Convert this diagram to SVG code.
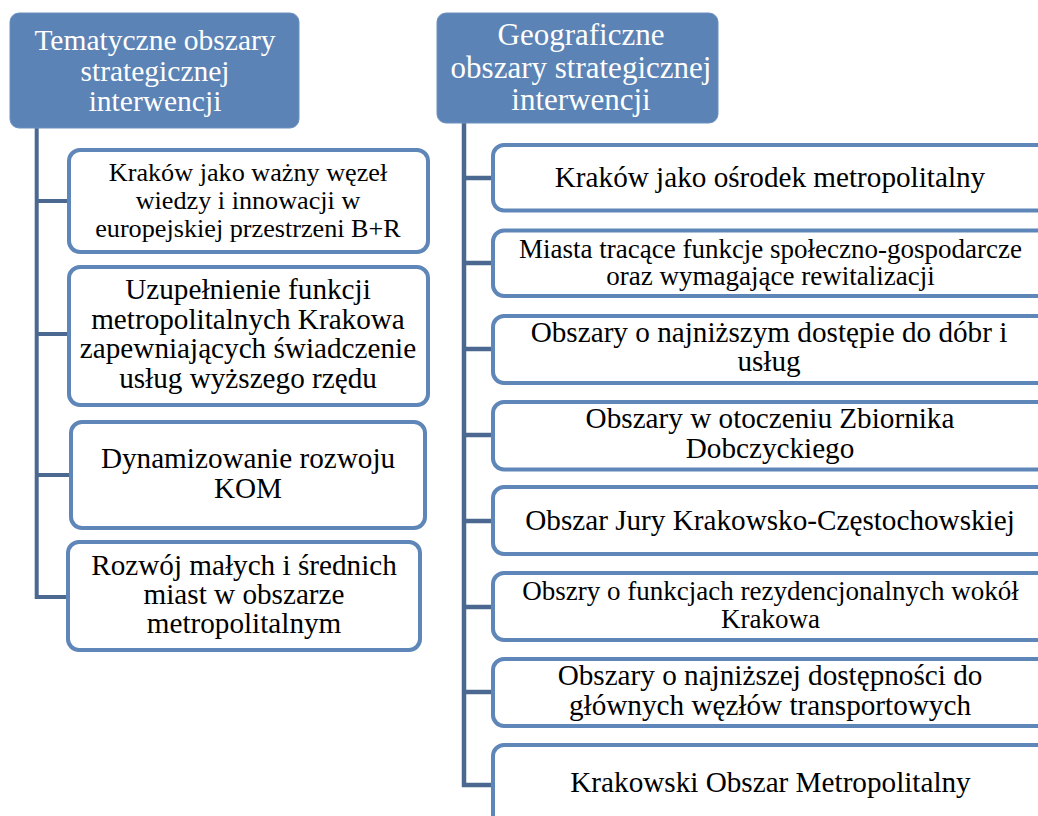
<svg xmlns="http://www.w3.org/2000/svg" width="1038" height="816" viewBox="0 0 1038 816">
<style>
.hdr{fill:#5B83B5;stroke:#6A90BE;stroke-width:1}
.box{fill:#fff;stroke:#5E86B8;stroke-width:4}
.con{stroke:#4A6890;stroke-width:4;fill:none}
text{font-family:'Liberation Serif','Times New Roman',serif;text-anchor:middle;fill:#000}
.htl{fill:#fff;font-size:29.5px}
.htr{fill:#fff;font-size:31px}
.l{font-size:29.2px}
.l1{font-size:26.2px}
.r{font-size:29.2px}
.rs{font-size:27px}
</style>
<g id="connectors">
<path class="con" d="M36.7 128V597H70M36.7 201H70M36.7 334H70M36.7 475H70"/>
<path class="con" style="stroke-width:4.5" d="M464 123V785H493M464 178H493M464 263H493M464 349H493M464 435H493M464 521H493M464 607H493M464 692H493"/>
</g>
<g id="hdr-left">
<rect class="hdr" x="10" y="13" width="289" height="115" rx="9"/>
<text class="htl" x="155" y="50">Tematyczne obszary</text>
<text class="htl" x="155" y="80.5">strategicznej</text>
<text class="htl" x="155" y="111">interwencji</text>
</g>
<g id="hdr-right">
<rect class="hdr" x="437" y="13" width="281" height="110" rx="9"/>
<text class="htr" x="581" y="45">Geograficzne</text>
<text class="htr" x="581" y="78">obszary strategicznej</text>
<text class="htr" x="581" y="110">interwencji</text>
</g>
<g id="L1">
<rect class="box" x="69" y="150" width="359" height="102" rx="11"/>
<text class="l1" x="248" y="181">Kraków jako ważny węzeł</text>
<text class="l1" x="248" y="208.5">wiedzy i innowacji w</text>
<text class="l1" x="248" y="236.5">europejskiej przestrzeni B+R</text>
</g>
<g id="L2">
<rect class="box" x="69" y="267" width="359" height="138" rx="11"/>
<text class="l" x="248" y="299">Uzupełnienie funkcji</text>
<text class="l" x="248" y="328.5">metropolitalnych Krakowa</text>
<text class="l" x="248" y="358">zapewniających świadczenie</text>
<text class="l" x="248" y="388">usług wyższego rzędu</text>
</g>
<g id="L3">
<rect class="box" x="71" y="422" width="354" height="106" rx="11"/>
<text class="l" x="248" y="468">Dynamizowanie rozwoju</text>
<text class="l" x="248" y="498">KOM</text>
</g>
<g id="L4">
<rect class="box" x="68" y="542" width="352" height="108" rx="11"/>
<text class="l" x="244" y="575">Rozwój małych i średnich</text>
<text class="l" x="244" y="604">miast w obszarze</text>
<text class="l" x="244" y="633">metropolitalnym</text>
</g>
<g id="R1">
<rect class="box" x="493" y="145" width="600" height="65.5" rx="11"/>
<text class="r" x="770" y="186.5">Kraków jako ośrodek metropolitalny</text>
</g>
<g id="R2">
<rect class="box" x="493" y="230.5" width="600" height="65.5" rx="11"/>
<text class="rs" x="770.5" y="257.5">Miasta tracące funkcje społeczno-gospodarcze</text>
<text class="rs" x="770.5" y="285">oraz wymagające rewitalizacji</text>
</g>
<g id="R3">
<rect class="box" x="493" y="316" width="600" height="67" rx="11"/>
<text class="r" x="769" y="342">Obszary o najniższym dostępie do dóbr i</text>
<text class="r" x="769" y="371">usług</text>
</g>
<g id="R4">
<rect class="box" x="493" y="402" width="600" height="67.5" rx="11"/>
<text class="r" x="770" y="428">Obszary w otoczeniu Zbiornika</text>
<text class="r" x="770" y="458">Dobczyckiego</text>
</g>
<g id="R5">
<rect class="box" x="493" y="487" width="600" height="67" rx="11"/>
<text class="r" x="770" y="530">Obszar Jury Krakowsko-Częstochowskiej</text>
</g>
<g id="R6">
<rect class="box" x="493" y="573" width="600" height="67" rx="11"/>
<text class="rs" x="770.5" y="599.5">Obszry o funkcjach rezydencjonalnych wokół</text>
<text class="rs" x="770.5" y="628">Krakowa</text>
</g>
<g id="R7">
<rect class="box" x="493" y="659" width="600" height="67" rx="11"/>
<text class="r" x="770" y="685">Obszary o najniższej dostępności do</text>
<text class="r" x="770" y="715">głównych węzłów transportowych</text>
</g>
<g id="R8">
<rect class="box" x="493" y="745" width="600" height="90" rx="11"/>
<text class="r" x="770.5" y="792">Krakowski Obszar Metropolitalny</text>
</g>
</svg>
